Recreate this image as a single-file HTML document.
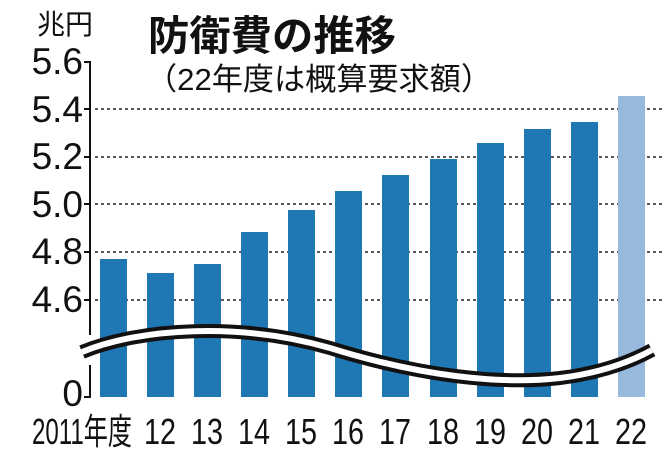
<!DOCTYPE html>
<html><head><meta charset="utf-8"><style>body{margin:0;background:#fff}svg{display:block}</style></head><body>
<svg width="670" height="454" viewBox="0 0 670 454" xmlns="http://www.w3.org/2000/svg" font-family="Liberation Sans, Noto Sans CJK JP, sans-serif">
<rect width="670" height="454" fill="#fff"/>
<text x="37" y="34" font-size="28" fill="#111" textLength="56" lengthAdjust="spacingAndGlyphs">兆円</text>
<text x="148" y="50" font-size="41" font-weight="bold" fill="#111" textLength="248" lengthAdjust="spacingAndGlyphs">防衛費の推移</text>
<text x="146" y="90" font-size="31" fill="#111" textLength="346" lengthAdjust="spacingAndGlyphs">（22年度は概算要求額）</text>
<g stroke="#222" stroke-width="1.5" stroke-dasharray="3,3">
<line x1="95" y1="109" x2="665" y2="109"/>
<line x1="95" y1="157" x2="665" y2="157"/>
<line x1="95" y1="204" x2="665" y2="204"/>
<line x1="95" y1="252" x2="665" y2="252"/>
<line x1="95" y1="300" x2="665" y2="300"/>
</g>
<g fill="#1f77b4">
<rect x="100" y="259" width="27" height="138"/>
<rect x="147" y="273" width="27" height="124"/>
<rect x="194" y="264" width="27" height="133"/>
<rect x="241" y="232" width="27" height="165"/>
<rect x="288" y="210" width="27" height="187"/>
<rect x="335" y="191" width="27" height="206"/>
<rect x="382" y="175" width="27" height="222"/>
<rect x="430" y="159" width="27" height="238"/>
<rect x="477" y="143" width="27" height="254"/>
<rect x="524" y="129" width="27" height="268"/>
<rect x="571" y="122" width="27" height="275"/>
</g>
<rect x="618" y="96" width="27" height="301" fill="#98b9de"/>
<g stroke="#111" stroke-width="2" fill="none">
<polyline points="84,62 90,62 90,335"/>
<polyline points="90,365 90,397 84,397"/>
<line x1="84" y1="109" x2="90" y2="109"/><line x1="84" y1="157" x2="90" y2="157"/>
<line x1="84" y1="204" x2="90" y2="204"/><line x1="84" y1="252" x2="90" y2="252"/>
<line x1="84" y1="300" x2="90" y2="300"/>
</g>
<path d="M82,352 C140,328 240,322 330,348 C420,376 500,385 560,378 C600,373 630,362 652,350" fill="none" stroke="#111" stroke-width="14"/>
<path d="M82,352 C140,328 240,322 330,348 C420,376 500,385 560,378 C600,373 630,362 652,350" fill="none" stroke="#fff" stroke-width="6"/>
<g font-size="37" fill="#111" text-anchor="end">
<text x="83" y="74">5.6</text><text x="83" y="122">5.4</text><text x="83" y="169">5.2</text>
<text x="83" y="217">5.0</text><text x="83" y="264">4.8</text><text x="83" y="312">4.6</text>
<text x="83" y="406">0</text>
</g>
<g font-size="36" fill="#111" text-anchor="middle">
<text x="82" y="444" textLength="100" lengthAdjust="spacingAndGlyphs">2011年度</text>
<text x="160" y="444" textLength="32" lengthAdjust="spacingAndGlyphs">12</text>
<text x="207" y="444" textLength="32" lengthAdjust="spacingAndGlyphs">13</text>
<text x="254" y="444" textLength="32" lengthAdjust="spacingAndGlyphs">14</text>
<text x="301" y="444" textLength="32" lengthAdjust="spacingAndGlyphs">15</text>
<text x="348" y="444" textLength="32" lengthAdjust="spacingAndGlyphs">16</text>
<text x="395" y="444" textLength="32" lengthAdjust="spacingAndGlyphs">17</text>
<text x="443" y="444" textLength="32" lengthAdjust="spacingAndGlyphs">18</text>
<text x="490" y="444" textLength="32" lengthAdjust="spacingAndGlyphs">19</text>
<text x="537" y="444" textLength="32" lengthAdjust="spacingAndGlyphs">20</text>
<text x="584" y="444" textLength="32" lengthAdjust="spacingAndGlyphs">21</text>
<text x="631" y="444" textLength="32" lengthAdjust="spacingAndGlyphs">22</text>
</g>
</svg>
</body></html>
